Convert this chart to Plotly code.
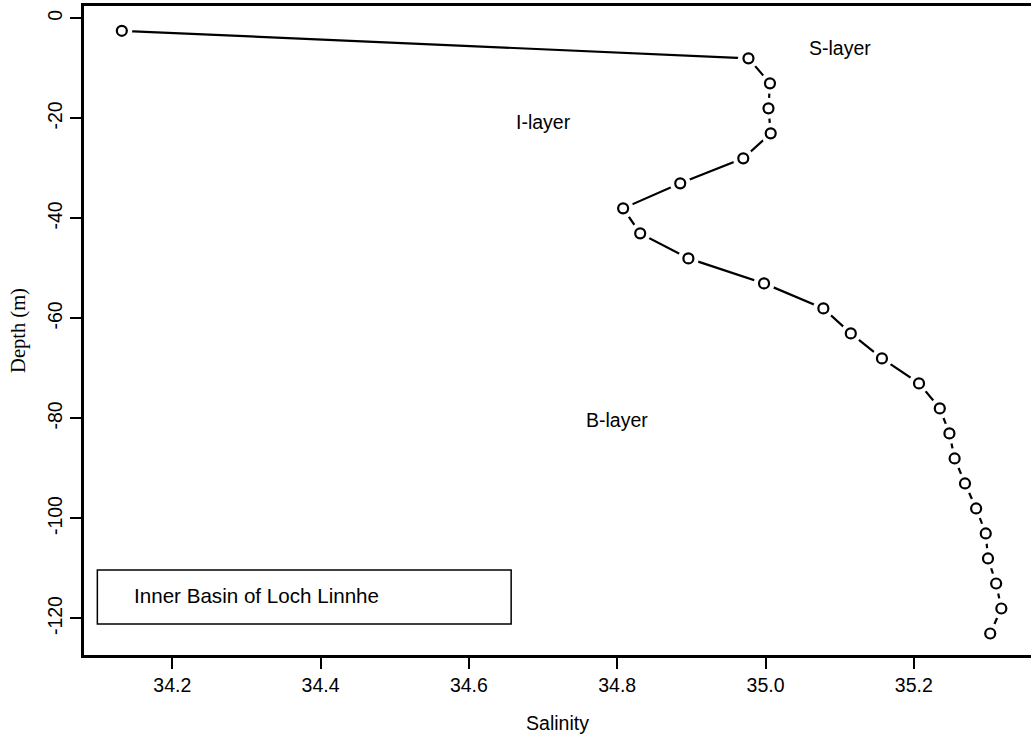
import plotly.graph_objects as go

# Salinity profile, Inner Basin of Loch Linnhe
depth = [-2.5, -8, -13, -18, -23, -28, -33, -38, -43, -48, -53, -58, -63,
         -68, -73, -78, -83, -88, -93, -98, -103, -108, -113, -118, -123]
salinity = [34.132, 34.977, 35.006, 35.004, 35.007, 34.970, 34.885, 34.808,
            34.831, 34.896, 34.998, 35.078, 35.115, 35.157, 35.207, 35.235,
            35.248, 35.255, 35.269, 35.284, 35.297, 35.300, 35.311, 35.318,
            35.303]

x_ticks = [34.2, 34.4, 34.6, 34.8, 35.0, 35.2]
x_tick_labels = ["34.2", "34.4", "34.6", "34.8", "35.0", "35.2"]
y_ticks = [0, -20, -40, -60, -80, -100, -120]
y_tick_labels = ["0", "-20", "-40", "-60", "-80", "-100", "-120"]

layer_names = ["S-layer", "I-layer", "B-layer"]
layer_x = [35.10, 34.70, 34.80]
layer_y = [-6, -20.7, -80.3]

SANS = "Liberation Sans, Arial, sans-serif"
SERIF = "Liberation Serif, Times New Roman, serif"

fig = go.Figure()

# connecting line
fig.add_trace(go.Scatter(x=salinity, y=depth, mode="lines",
                         line=dict(color="black", width=2.2),
                         hoverinfo="skip", showlegend=False))
# white discs leave a gap in the line around each point
fig.add_trace(go.Scatter(x=salinity, y=depth, mode="markers",
                         marker=dict(symbol="circle", size=21, color="white",
                                     line=dict(width=0)),
                         hoverinfo="skip", showlegend=False))
# open circles at the observations
fig.add_trace(go.Scatter(x=salinity, y=depth, mode="markers",
                         marker=dict(symbol="circle-open", size=10, color="black",
                                     line=dict(width=2.2, color="black")),
                         showlegend=False))

for name, lx, ly in zip(layer_names, layer_x, layer_y):
    fig.add_annotation(x=lx, y=ly, text=name, showarrow=False,
                       font=dict(family=SANS, size=19.5, color="black"),
                       xanchor="center", yanchor="middle")

# title box
fig.add_shape(type="rect", xref="x", yref="y",
              x0=34.099, x1=34.657, y0=-110.3, y1=-121.1,
              line=dict(color="black", width=1.5), fillcolor="white", layer="above")
fig.add_annotation(x=34.146, y=-115.4, text="Inner Basin of Loch Linnhe",
                   showarrow=False, xanchor="left", yanchor="middle",
                   font=dict(family=SANS, size=20.6, color="black"))

fig.update_xaxes(range=[34.081, 35.358], tickvals=x_ticks, ticktext=x_tick_labels,
                 showgrid=False, zeroline=False, showline=True, linecolor="black",
                 linewidth=2.5, mirror=True, ticks="outside", ticklen=11,
                 tickwidth=2, tickcolor="black",
                 tickfont=dict(family=SANS, size=19.5, color="black"),
                 title=dict(text="Salinity", font=dict(family=SANS, size=19.5, color="black"),
                            standoff=22))
fig.update_yaxes(range=[-127.3, 2.46], tickvals=y_ticks, ticktext=y_tick_labels,
                 showgrid=False, zeroline=False, showline=True, linecolor="black",
                 linewidth=2.5, ticks="outside", ticklen=11, tickwidth=2,
                 tickcolor="black", tickangle=-90,
                 tickfont=dict(family=SANS, size=19.5, color="black"),
                 title=dict(text="Depth (m)", font=dict(family=SERIF, size=20.5, color="black"),
                            standoff=14))

fig.update_layout(width=1031, height=734,
                  margin=dict(l=84, r=0, t=6, b=79),
                  paper_bgcolor="white", plot_bgcolor="white",
                  showlegend=False)

fig.write_html("out.html")
